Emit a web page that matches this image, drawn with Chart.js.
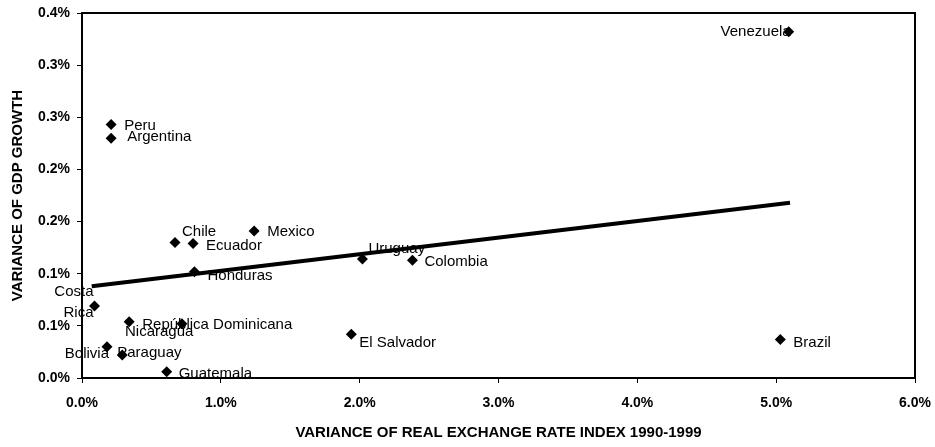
<!DOCTYPE html>
<html>
<head>
<meta charset="utf-8">
<script src="https://cdn.jsdelivr.net/npm/chart.js@4/dist/chart.umd.min.js"></script>
<style>
  html, body { margin: 0; padding: 0; background: #fff; }
  #wrap { width: 935px; height: 447px; }
</style>
</head>
<body>
<div id="wrap"><canvas id="chart" width="935" height="447"></canvas></div>
<script>
// values (both axes in percent)
const countries = ["Venezuela", "Peru", "Argentina", "Chile", "Ecuador", "Mexico", "Honduras",
  "Uruguay", "Colombia", "El Salvador", "Brazil", "Costa Rica", "Nicaragua",
  "República Dominicana", "Bolivia", "Paraguay", "Guatemala"];
const rerVariance = [5.09, 0.21, 0.21, 0.67, 0.80, 1.24, 0.81, 2.02, 2.38, 1.94, 5.03, 0.09, 0.72, 0.34, 0.18, 0.29, 0.61];
const gdpVariance = [0.332, 0.243, 0.230, 0.130, 0.129, 0.141, 0.102, 0.114, 0.113, 0.042, 0.037, 0.069, 0.052, 0.054, 0.030, 0.022, 0.006];

// fitted trend line, its two ends
const trendX = [0.07, 5.10];
const trendY = [0.088, 0.168];

const xTickValues = [0, 1, 2, 3, 4, 5, 6];
const xTickLabels = ["0.0%", "1.0%", "2.0%", "3.0%", "4.0%", "5.0%", "6.0%"];
const yTickValues = [0, 0.05, 0.10, 0.15, 0.20, 0.25, 0.30, 0.35];
const yTickLabels = ["0.0%", "0.1%", "0.1%", "0.2%", "0.2%", "0.3%", "0.3%", "0.4%"];

// where each country name sits next to its marker
const labelPlace = {
  "Venezuela": { align: "right", dx: 2, dy: 0 },
  "Peru": { align: "left", dx: 13, dy: 1 },
  "Argentina": { align: "left", dx: 16, dy: -1 },
  "Chile": { align: "left", dx: 7, dy: -11 },
  "Ecuador": { align: "left", dx: 13, dy: 2 },
  "Mexico": { align: "left", dx: 13, dy: 1 },
  "Honduras": { align: "left", dx: 13, dy: 4 },
  "Uruguay": { align: "left", dx: 6, dy: -10 },
  "Colombia": { align: "left", dx: 12, dy: 2 },
  "El Salvador": { align: "left", dx: 8, dy: 9 },
  "Brazil": { align: "left", dx: 13, dy: 3 },
  "Costa Rica": { align: "right", dx: -1, dy: -14, lines: ["Costa", "Rica"], gap: 21 },
  "Nicaragua": { align: "left", dx: -57, dy: 8 },
  "República Dominicana": { align: "left", dx: 13, dy: 3 },
  "Bolivia": { align: "right", dx: 2, dy: 7 },
  "Paraguay": { align: "left", dx: -5, dy: -2 },
  "Guatemala": { align: "left", dx: 12, dy: 2 },
};

const FONT = "'Liberation Sans', Arial, sans-serif";

const pointLabels = {
  id: "pointLabels",
  beforeDatasetsDraw(chart) {
    const ctx = chart.ctx;
    const meta = chart.getDatasetMeta(1);
    ctx.save();
    ctx.font = "15px " + FONT;
    ctx.fillStyle = "#000";
    ctx.textBaseline = "middle";
    meta.data.forEach((pt, i) => {
      const name = countries[i];
      const p = labelPlace[name] || { align: "left", dx: 12, dy: 0 };
      ctx.textAlign = p.align;
      const lines = p.lines || [name];
      lines.forEach((t, k) => {
        ctx.fillText(t, pt.x + p.dx, pt.y + p.dy + k * (p.gap || 0));
      });
    });
    ctx.restore();
  },
};

const frame = {
  id: "frame",
  afterDraw(chart) {
    const { left, top, right, bottom } = chart.chartArea;
    const ctx = chart.ctx;
    ctx.save();
    ctx.strokeStyle = "#000";
    ctx.lineWidth = 2;
    ctx.strokeRect(left, top, right - left, bottom - top);
    ctx.restore();
  },
};

function axisTicks(values, labels) {
  return {
    afterBuildTicks: (s) => { s.ticks = values.map((v) => ({ value: v })); },
    ticks: {
      callback: (v) => { const i = values.indexOf(v); return i >= 0 ? labels[i] : ""; },
    },
  };
}

const xTicks = axisTicks(xTickValues, xTickLabels);
const yTicks = axisTicks(yTickValues, yTickLabels);

new Chart(document.getElementById("chart"), {
  type: "scatter",
  data: {
    datasets: [
      {
        label: "Trend",
        type: "line",
        data: trendX.map((x, i) => ({ x, y: trendY[i] })),
        borderColor: "#000",
        borderWidth: 4,
        pointRadius: 0,
        fill: false,
      },
      {
        label: "Countries",
        data: rerVariance.map((x, i) => ({ x, y: gdpVariance[i] })),
        pointStyle: "rectRot",
        pointRadius: 5.5,
        backgroundColor: "#000",
        borderColor: "#000",
        borderWidth: 0,
      },
    ],
  },
  options: {
    responsive: false,
    animation: false,
    events: [],
    layout: { padding: { top: 13, right: 20, left: 0, bottom: 0 } },
    plugins: { legend: { display: false }, tooltip: { enabled: false } },
    scales: {
      x: {
        type: "linear",
        min: 0,
        max: 6,
        afterBuildTicks: xTicks.afterBuildTicks,
        afterFit: (s) => { s.height = 69; s.paddingLeft = 0; s.paddingRight = 0; },
        grid: { drawOnChartArea: false, drawTicks: true, tickLength: 5, color: "#000" },
        border: { display: false },
        ticks: {
          callback: xTicks.ticks.callback,
          color: "#000",
          padding: 12,
          maxRotation: 0,
          font: { family: FONT, size: 14, weight: "bold" },
        },
        title: {
          display: true,
          text: "VARIANCE OF REAL EXCHANGE RATE INDEX 1990-1999",
          color: "#000",
          padding: { top: 0, bottom: 5 },
          font: { family: FONT, size: 15, weight: "bold" },
        },
      },
      y: {
        type: "linear",
        min: 0,
        max: 0.35,
        afterBuildTicks: yTicks.afterBuildTicks,
        afterFit: (s) => { s.width = 82; s.paddingTop = 0; s.paddingBottom = 0; },
        grid: { drawOnChartArea: false, drawTicks: true, tickLength: 5, color: "#000" },
        border: { display: false },
        ticks: {
          callback: yTicks.ticks.callback,
          color: "#000",
          padding: 7,
          font: { family: FONT, size: 14, weight: "bold" },
        },
        title: {
          display: true,
          text: "VARIANCE OF GDP GROWTH",
          color: "#000",
          padding: { top: 9, bottom: 0 },
          font: { family: FONT, size: 15, weight: "bold" },
        },
      },
    },
  },
  plugins: [pointLabels, frame],
});
</script>
</body>
</html>
